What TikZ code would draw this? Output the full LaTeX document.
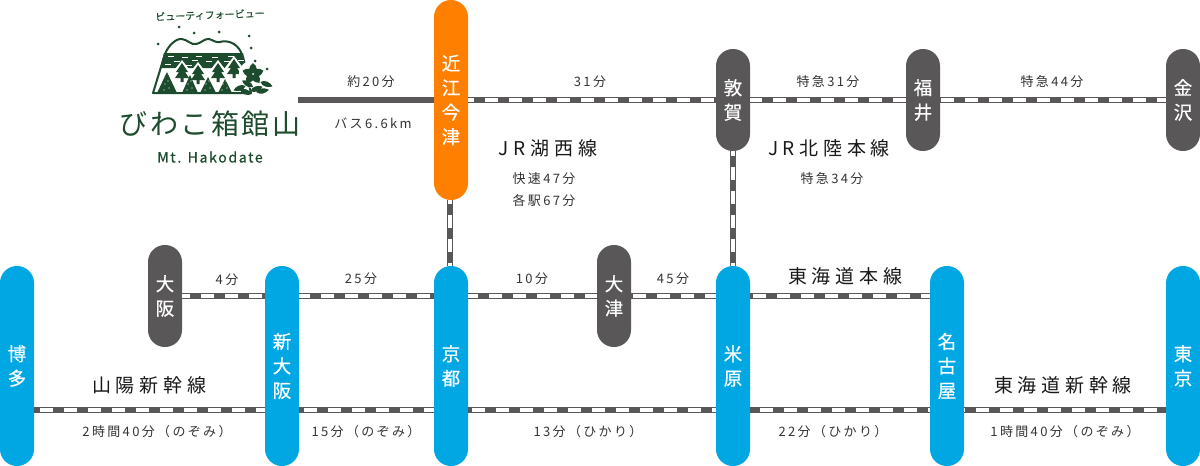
\documentclass[tikz,border=0pt]{standalone}
\usepackage{fontspec}
\setmainfont{Noto Sans CJK JP}
\definecolor{railgray}{HTML}{595757}
\definecolor{stablue}{HTML}{00A7E3}
\definecolor{staorange}{HTML}{FF8000}
\definecolor{logogreen}{HTML}{1D4B2D}
\tikzset{
  capsule/.style={rectangle,rounded corners=16.9pt,minimum width=34pt,inner sep=0pt,text=white,align=center,
    font=\fontsize{18.5}{24.5}\selectfont\addfontfeature{FakeBold=0.5}},
  bluesta/.style={capsule,fill=stablue,minimum height=200pt},
  graysta/.style={capsule,fill=railgray,minimum height=102pt},
  orangesta/.style={capsule,fill=staorange,minimum height=200pt},
  rail/.style={railgray,line width=6pt},
  railin/.style={white,line width=4pt,dash pattern=on 13pt off 11pt},
  timelabel/.style={inner sep=0pt,yshift=-1pt,text=black!80,font=\fontsize{13}{15}\selectfont\addfontfeature{LetterSpace=18}},
  linelabel/.style={inner sep=0pt,text=black!90,font=\fontsize{19}{22}\selectfont\addfontfeature{LetterSpace=25}},
  pinetree/.style={logogreen}
}
% start, end, dash phase
\newcommand{\railrun}[3]{\draw[rail] (#1) -- (#2); \draw[railin,dash phase=#3pt] (#1) -- (#2);}
\begin{document}
\begin{tikzpicture}[x=1pt,y=-1pt]
\useasboundingbox (0,0) rectangle (1200,466);
% stations
\node[orangesta] (imazu) at (451,100) {近\\江\\今\\津};
\node[graysta] (tsuruga) at (733,100) {敦\\賀};
\node[graysta] (fukui) at (923,100) {福\\井};
\node[graysta] (kanazawa) at (1183,100) {金\\沢};
\node[graysta] (osaka) at (165,296) {大\\阪};
\node[graysta] (otsu) at (614,296) {大\\津};
\node[bluesta] (hakata) at (17,366) {博\\多};
\node[bluesta] (shinosaka) at (282,366) {新\\大\\阪};
\node[bluesta] (kyoto) at (451,366) {京\\都};
\node[bluesta] (maibara) at (733,366) {米\\原};
\node[bluesta] (nagoya) at (947,366) {名\\古\\屋};
\node[bluesta] (tokyo) at (1183,366) {東\\京};
% rails
\coordinate (busend) at (298,100);
\draw[rail] (busend) -- (imazu.west |- busend);
\railrun{imazu.east |- busend}{tsuruga.west |- busend}{7}
\railrun{tsuruga.east |- busend}{fukui.west |- busend}{1}
\railrun{fukui.east |- busend}{kanazawa.west |- busend}{23}
\railrun{[xshift=-1pt]imazu.south}{[xshift=-1pt]kyoto.north}{9}
\railrun{tsuruga.south}{maibara.north}{8}
\railrun{osaka.east |- 0,296}{shinosaka.west |- 0,296}{5}
\railrun{shinosaka.east |- 0,296}{kyoto.west |- 0,296}{2}
\railrun{kyoto.east |- 0,296}{otsu.west |- 0,296}{3}
\railrun{otsu.east |- 0,296}{maibara.west |- 0,296}{22}
\railrun{maibara.east |- 0,296}{nagoya.west |- 0,296}{21}
\railrun{hakata.east |- 0,410}{shinosaka.west |- 0,410}{18}
\railrun{shinosaka.east |- 0,410}{kyoto.west |- 0,410}{19}
\railrun{kyoto.east |- 0,410}{maibara.west |- 0,410}{20}
\railrun{maibara.east |- 0,410}{nagoya.west |- 0,410}{14}
\railrun{nagoya.east |- 0,410}{tokyo.west |- 0,410}{12}
% times
\node[timelabel] (t1) at (371,81) {約20分};
\node[timelabel] (t2) at (373,122) {バス6.6km};
\node[timelabel] (t3) at (590,81) {31分};
\node[timelabel] (t4) at (828,81) {特急31分};
\node[timelabel] (t5) at (1052,81) {特急44分};
\node[timelabel] (t6) at (832,178) {特急34分};
\node[timelabel] (t7) at (544,178) {快速47分};
\node[timelabel] (t8) at (544,200) {各駅67分};
\node[timelabel] (t9) at (227,279) {4分};
\node[timelabel] (t10) at (361,278) {25分};
\node[timelabel] (t11) at (532,278) {10分};
\node[timelabel] (t12) at (673,278) {45分};
\node[timelabel] (t13) at (157,431) {2時間40分（のぞみ）};
\node[timelabel] (t14) at (366,431) {15分（のぞみ）};
\node[timelabel] (t15) at (588,431) {13分（ひかり）};
\node[timelabel] (t16) at (833,431) {22分（ひかり）};
\node[timelabel] (t17) at (1065,431) {1時間40分（のぞみ）};
% line names
\node[linelabel] (l1) at (548,148) {JR湖西線};
\node[linelabel] (l2) at (829,148) {JR北陸本線};
\node[linelabel] (l3) at (845,276) {東海道本線};
\node[linelabel] (l4) at (149,385) {山陽新幹線};
\node[linelabel] (l5) at (1063,385) {東海道新幹線};
% logo
\node[logogreen,rotate=2,inner sep=0pt,font=\fontsize{10}{12}\selectfont\addfontfeature{FakeBold=0.5}] (logotop) at (210,15) {ビューティフォービュー};
\filldraw[logogreen,line width=2pt,fill=white,line join=round] (153,93) -- (165,54) .. controls (168,46) and (176,38) .. (182,39) .. controls (188,40) and (191,45) .. (196,44) .. controls (200,44) and (205,38) .. (209,39) .. controls (213,40) and (216,43) .. (220,42) .. controls (226,40) and (236,42) .. (241,52) -- (251,93) -- cycle;
\fill[logogreen] (164,53) -- (243,53) -- (247,68) -- (160,68) -- cycle;
\foreach \dx/\dy in {168/56,182/57,196/56,212/57,228/56,174/61,192/60,206/61,224/61,238/60,165/64,186/65,216/65,234/64}
  \fill[white] (\dx,\dy) rectangle ++(6,1.3);
% notches under the band, then the upper trees
\foreach \tx/\ty in {182/63,198/65,218/63,234/59}{
  \fill[white] (\tx,\ty-3) -- (\tx-10,\ty+10) -- (\tx+10,\ty+10) -- cycle;
  \fill[pinetree] (\tx,\ty) -- (\tx-6,\ty+9) -- (\tx-3,\ty+9) -- (\tx-7,\ty+15) -- (\tx-1.5,\ty+15) -- (\tx-1.5,\ty+19) -- (\tx+1.5,\ty+19) -- (\tx+1.5,\ty+15) -- (\tx+7,\ty+15) -- (\tx+3,\ty+9) -- (\tx+6,\ty+9) -- cycle;
}
% lower trees
\foreach \tx/\ty/\tw in {167/72/10,190/75/8,208/77/8,225/79/7}{
  \fill[pinetree] (\tx,\ty) -- (\tx-\tw,93) -- (\tx+\tw,93) -- cycle;
  \fill[white] (\tx-2,84) circle (0.7pt) (\tx+2,88) circle (0.7pt) (\tx-3,90) circle (0.7pt) (\tx+1,81) circle (0.6pt);
}
% flower and leaves
\fill[white] (253,74) circle (14pt);
\foreach \ang in {18,90,162,234,306}
  \fill[logogreen,shift={(253,74)},rotate=\ang] (0,0) .. controls (3,-5) and (7,-5) .. (11,0) .. controls (7,5) and (3,5) .. (0,0) -- cycle;
\fill[white] (253,74) circle (1pt);
\foreach \lfx/\lfy/\ang in {240/88/200,248/84/150,256/89/20,266/84/-20,246/92/160,262/91/10}
  \fill[logogreen,shift={(\lfx,\lfy)},rotate=\ang] (-6,0) .. controls (-2,-4) and (3,-3) .. (7,0) .. controls (3,3) and (-2,4) .. (-6,0) -- cycle;
% dots
\foreach \px/\py in {179/27,194/33,219/32,158/44,249/36,251/48,255/61,267/69}
  \fill[logogreen] (\px,\py) circle (1.5pt);
\node[logogreen,inner sep=0pt,font=\fontsize{28}{30}\selectfont\addfontfeature{LetterSpace=9}] (logoname) at (210,124) {びわこ箱館山};
\node[logogreen,inner sep=0pt,font=\fontsize{14}{15}\selectfont\addfontfeature{LetterSpace=12,FakeBold=0.8}] (logoen) at (210,157) {Mt. Hakodate};
\end{tikzpicture}
\end{document}
